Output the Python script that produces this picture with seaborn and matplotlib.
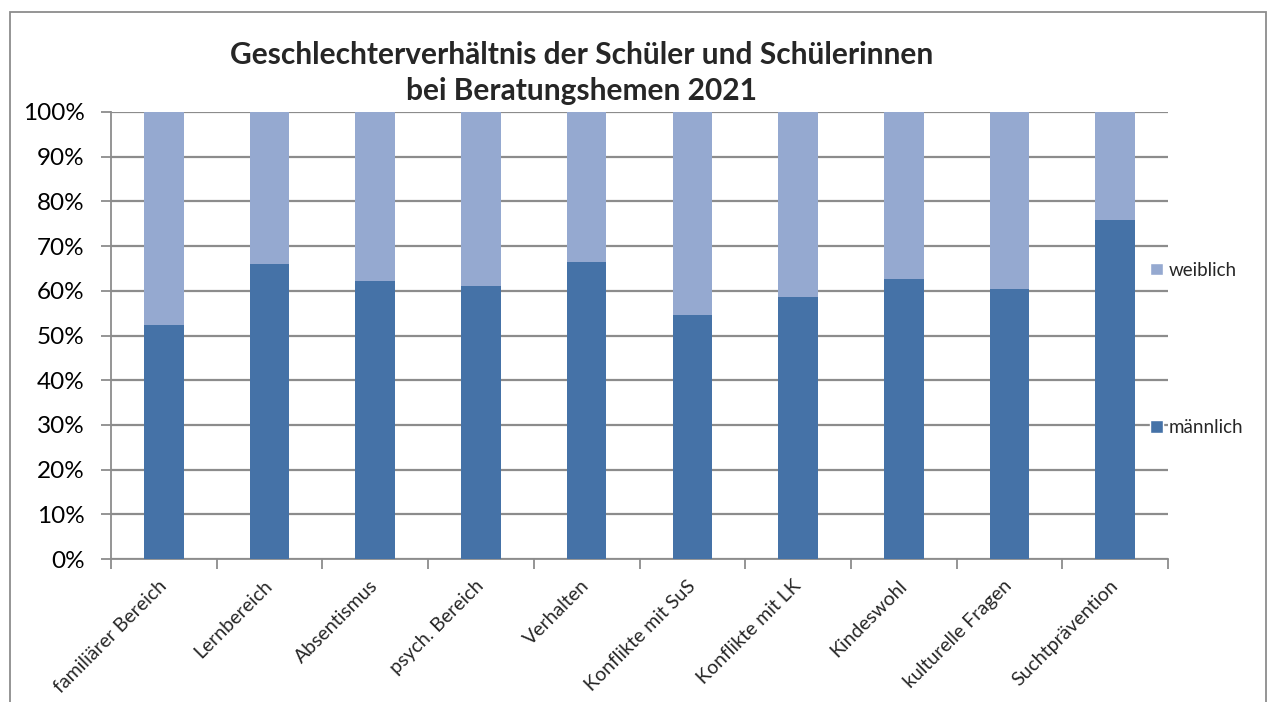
import matplotlib
matplotlib.use("Agg")
import matplotlib.pyplot as plt
import matplotlib.transforms as mtransforms
import seaborn as sns
import numpy as np
import pandas as pd
from matplotlib.patches import Patch, Rectangle
from matplotlib.ticker import FixedLocator, PercentFormatter

categories = ["familiärer Bereich", "Lernbereich", "Absentismus", "psych. Bereich",
              "Verhalten", "Konflikte mit SuS", "Konflikte mit LK", "Kindeswohl",
              "kulturelle Fragen", "Suchtprävention"]
maennlich = [52.3, 66.1, 62.3, 61.1, 66.4, 54.5, 58.7, 62.7, 60.3, 75.9]
weiblich = [47.7, 33.9, 37.7, 38.9, 33.6, 45.5, 41.3, 37.3, 39.7, 24.1]
yticks = [0, 10, 20, 30, 40, 50, 60, 70, 80, 90, 100]
title = "Geschlechterverhältnis der Schüler und Schülerinnen\nbei Beratungshemen 2021"

c_m = "#4572A7"
c_w = "#95A9D0"

sns.set_style("white")
plt.rcParams["font.family"] = ["Lato", "DejaVu Sans"]

W, H = 1269, 702
fig = plt.figure(figsize=(W / 100, H / 100), dpi=100)
ax = fig.add_axes([111 / W, 1 - 559 / H, (1168 - 111) / W, (559 - 112) / H])

df = pd.DataFrame({"cat": categories,
                   "m": maennlich,
                   "total": np.array(maennlich) + np.array(weiblich)})

sns.barplot(data=df, x="cat", y="total", color=c_w, width=0.375, ax=ax,
            saturation=1, linewidth=0, zorder=2)
sns.barplot(data=df, x="cat", y="m", color=c_m, width=0.375, ax=ax,
            saturation=1, linewidth=0, zorder=3)

ax.set_xlim(-0.5, len(categories) - 0.5)
ax.set_ylim(0, 100)
ax.set_yticks(yticks)
ax.yaxis.set_major_formatter(PercentFormatter(decimals=0))
ax.grid(axis="y", color="#8c8c8c", linewidth=1.6, zorder=0)
ax.set_axisbelow(True)
ax.set_xlabel("")
ax.set_ylabel("")

for s in ["top", "right"]:
    ax.spines[s].set_visible(False)
for s in ["left", "bottom"]:
    ax.spines[s].set_color("#8c8c8c")
    ax.spines[s].set_linewidth(1.3)

ax.tick_params(axis="y", which="major", left=True, length=7, width=1.3,
               color="#8c8c8c", labelsize=17.5, pad=12, labelcolor="black")
ax.tick_params(axis="x", which="major", length=0, labelsize=14, pad=8)
ax.xaxis.set_minor_locator(FixedLocator(np.arange(-0.5, len(categories), 1.0)))
ax.tick_params(axis="x", which="minor", bottom=True, length=7, width=1.3,
               color="#8c8c8c")
offset = mtransforms.ScaledTranslation(-6 / 100, -7 / 100, fig.dpi_scale_trans)
for lab in ax.get_xticklabels():
    lab.set_rotation(45)
    lab.set_ha("right")
    lab.set_rotation_mode("anchor")
    lab.set_transform(lab.get_transform() + offset)

fig.text(582 / W, 1 - 73 / H, title, ha="center", va="center",
         fontsize=21.5, fontweight="bold", linespacing=1.35)

handles = [Patch(facecolor=c_w, label="weiblich"),
           Patch(facecolor=c_m, label="männlich")]
fig.legend(handles=handles, loc="center left",
           bbox_to_anchor=(1141 / W, 1 - 349 / H), frameon=False,
           fontsize=13.5, labelspacing=7.5, handlelength=0.65, handleheight=0.65,
           handletextpad=0.35, borderpad=0)

fig.patches.append(Rectangle((10 / W, -0.05), (1266 - 10) / W, 1 - 12 / H + 0.05,
                             transform=fig.transFigure, fill=False,
                             edgecolor="#8c8c8c", linewidth=1.3))

fig.savefig("out.png", dpi=100)
